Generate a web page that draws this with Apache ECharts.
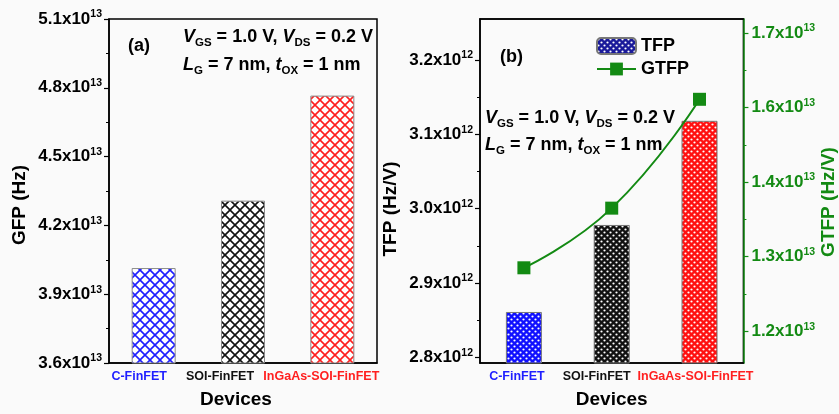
<!DOCTYPE html>
<html><head><meta charset="utf-8">
<script src="https://cdn.jsdelivr.net/npm/echarts@6/dist/echarts.min.js"></script>
<style>html,body{margin:0;padding:0;background:#fafafa}#c{width:839px;height:414px}</style>
</head><body><div id="c"></div>
<script>
// ---- data ----
const categories = ['C-FinFET', 'SOI-FinFET', 'InGaAs-SOI-FinFET'];
const gfp = [4.014, 4.308, 4.766];      // GFP, x10^13 Hz
const tfp = [2.861, 2.978, 3.118];      // TFP, x10^12 Hz/V
const gtfp = [1.285, 1.365, 1.511];     // GTFP, x10^13 Hz/V
const gfpTicks = [3.6, 3.9, 4.2, 4.5, 4.8, 5.1];
const tfpTicks = [2.8, 2.9, 3.0, 3.1, 3.2];
const tfpMinorTicks = [2.85, 2.95, 3.05, 3.15];
const gtfpTicks = [1.2, 1.3, 1.4, 1.5, 1.6];
const gtfpTickLabels = ['1.2', '1.3', '1.4', '1.6', '1.7'];
const gtfpMinorTicks = [1.25, 1.35, 1.45, 1.55];

// ---- styling ----
const F = 'Liberation Sans';
const green = '#138a13';
const catColors = ['#1f1fff', '#111111', '#ff1f1f'];

function hatch(color) {
  const c = document.createElement('canvas'); c.width = c.height = 10;
  const g = c.getContext('2d');
  g.fillStyle = '#fff'; g.fillRect(0, 0, 10, 10);
  g.strokeStyle = color; g.lineWidth = 1.6;
  g.beginPath();
  g.moveTo(-1, -1); g.lineTo(11, 11);
  g.moveTo(11, -1); g.lineTo(-1, 11);
  g.stroke();
  return { image: c, repeat: 'repeat' };
}
function dots(color) {
  const c = document.createElement('canvas'); c.width = c.height = 6;
  const g = c.getContext('2d');
  g.fillStyle = color; g.fillRect(0, 0, 6, 6);
  g.fillStyle = '#fff';
  g.beginPath(); g.arc(1.5, 1.5, 1.1, 0, Math.PI * 2); g.fill();
  g.beginPath(); g.arc(4.5, 4.5, 1.1, 0, Math.PI * 2); g.fill();
  return { image: c, repeat: 'repeat' };
}

function supRich(color) {
  return {
    mant: { fontSize: 17, fontWeight: 'bold', fontFamily: F, lineHeight: 20, color: color },
    expo: { fontSize: 10.5, fontWeight: 'bold', fontFamily: F, lineHeight: 10, verticalAlign: 'top', color: color }
  };
}
function supLabel(txt, exp) { return '{mant|' + txt + 'x10}{expo|' + exp + '}'; }

function catRich(offsets) {
  const r = {};
  offsets.forEach((o, i) => {
    r['c' + i] = { color: catColors[i], fontSize: 12.5, fontWeight: 'bold', fontFamily: F, padding: [0, Math.max(0, -2 * o), 0, Math.max(0, 2 * o)] };
  });
  return r;
}
const catFmt = (v, i) => '{c' + i + '|' + v + '}';

const annoRich = {
  i: { fontSize: 18, fontWeight: 'bold', fontStyle: 'italic', fontFamily: F, lineHeight: 24, fill: '#000' },
  n: { fontSize: 18, fontWeight: 'bold', fontFamily: F, lineHeight: 24, fill: '#000' },
  sub: { fontSize: 11.5, fontWeight: 'bold', fontFamily: F, lineHeight: 10, verticalAlign: 'bottom', fill: '#000' }
};
const line1 = '{i|V}{sub|GS}{n| = 1.0 V, }{i|V}{sub|DS}{n| = 0.2 V}';
const line2 = '{i|L}{sub|G}{n| = 7 nm, }{i|t}{sub|OX}{n| = 1 nm}';
function anno(text, left, top) {
  return { type: 'text', left: left, top: top, z: 10, style: { text: text, rich: annoRich, fill: '#000' } };
}
function plain(text, left, top) {
  return { type: 'text', left: left, top: top, z: 10, style: { text: text, fill: '#000', fontSize: 18, fontWeight: 'bold', fontFamily: F } };
}

const axisLineBlack = { show: true, lineStyle: { color: '#000', width: 1.5 } };
const nameStyle = { fontSize: 19, fontWeight: 'bold', fontFamily: F, color: '#000' };
const catLabelBase = { margin: 7, interval: 0, hideOverlap: false, fontSize: 12.5, fontWeight: 'bold', fontFamily: F, formatter: catFmt };
const valLabelBase = { fontSize: 17, fontWeight: 'bold', fontFamily: F, hideOverlap: false };

const option = {
  backgroundColor: '#fafafa',
  animation: false,
  grid: [
    { left: 109, right: 462, top: 19, bottom: 48, show: true, borderColor: '#000', borderWidth: 1.5, backgroundColor: 'transparent' },
    { left: 480, right: 90, top: 19, bottom: 49, show: true, borderColor: '#000', borderWidth: 1.5, backgroundColor: 'transparent' }
  ],
  legend: {
    orient: 'vertical', left: 596, top: 37, padding: 0, itemWidth: 39, itemHeight: 16, itemGap: 5,
    textStyle: { fontSize: 18, fontWeight: 'bold', fontFamily: F, color: '#000' },
    data: ['TFP', 'GTFP']
  },
  xAxis: [
    { type: 'category', gridIndex: 0, data: categories, position: 'bottom',
      axisLine: axisLineBlack, axisTick: { alignWithLabel: true, length: 4, lineStyle: { color: '#000', width: 1.2 } },
      axisLabel: Object.assign({ rich: catRich([-14.5, -23, -11]) }, catLabelBase),
      name: 'Devices', nameLocation: 'middle', nameGap: 27, nameTextStyle: Object.assign({ padding: [0, 14, 0, 0] }, nameStyle) },
    { type: 'category', gridIndex: 1, data: categories, position: 'bottom',
      axisLine: axisLineBlack, axisTick: { alignWithLabel: true, length: 4, lineStyle: { color: '#000', width: 1.2 } },
      axisLabel: Object.assign({ rich: catRich([-7, -15, -4]) }, catLabelBase),
      name: 'Devices', nameLocation: 'middle', nameGap: 27, nameTextStyle: nameStyle },
    { type: 'category', gridIndex: 1, data: categories, position: 'top',
      axisLine: axisLineBlack, axisTick: { alignWithLabel: true, inside: true, length: 5, lineStyle: { color: '#000', width: 1.2 } },
      axisLabel: { show: false } }
  ],
  yAxis: [
    { type: 'value', gridIndex: 0, min: 3.6, max: 5.1, interval: 0.3, position: 'left',
      axisLine: axisLineBlack, splitLine: { show: false },
      axisTick: { show: true, length: 5, lineStyle: { color: '#000', width: 1.2 } },
      minorTick: { show: true, splitNumber: 2, length: 3, lineStyle: { color: '#000', width: 1 } },
      axisLabel: Object.assign({ margin: 7, color: '#000', formatter: v => supLabel(v.toFixed(1), 13), rich: supRich('#000') }, valLabelBase),
      name: 'GFP (Hz)', nameLocation: 'middle', nameRotate: 90, nameGap: 80,
      nameTextStyle: Object.assign({ padding: [0, 28, 0, 0] }, nameStyle) },
    { type: 'value', gridIndex: 1, min: 2.7924, max: 3.2549, position: 'left',
      axisLine: axisLineBlack, splitLine: { show: false },
      axisTick: { show: true, length: 5, customValues: tfpTicks, lineStyle: { color: '#000', width: 1.2 } },
      axisLabel: Object.assign({ margin: 7, color: '#000', customValues: tfpTicks, formatter: v => supLabel(v.toFixed(1), 12), rich: supRich('#000') }, valLabelBase),
      name: 'TFP (Hz/V)', nameLocation: 'middle', nameRotate: 90, nameGap: 80,
      nameTextStyle: Object.assign({ padding: [0, 36, 0, 0] }, nameStyle) },
    { type: 'value', gridIndex: 1, min: 2.7924, max: 3.2549, position: 'left',
      axisLine: { show: false }, splitLine: { show: false },
      axisTick: { show: true, length: 3, customValues: tfpMinorTicks, lineStyle: { color: '#000', width: 1 } },
      axisLabel: { show: false } },
    { type: 'value', gridIndex: 1, min: 1.1573, max: 1.6187, position: 'right',
      axisLine: { show: true, lineStyle: { color: green, width: 1.5 } }, splitLine: { show: false },
      axisTick: { show: true, length: 5, customValues: gtfpTicks, lineStyle: { color: green, width: 1.2 } },
      axisLabel: Object.assign({ margin: 8, color: green, customValues: gtfpTicks,
        formatter: v => { const i = gtfpTicks.findIndex(t => Math.abs(t - v) < 1e-6); return supLabel(i >= 0 ? gtfpTickLabels[i] : v.toFixed(1), 13); },
        rich: supRich(green) }, valLabelBase),
      name: 'GTFP (Hz/V)', nameLocation: 'middle', nameRotate: 90, nameGap: 74,
      nameTextStyle: Object.assign({}, nameStyle, { color: green, padding: [0, 22, 0, 0] }) },
    { type: 'value', gridIndex: 1, min: 1.1573, max: 1.6187, position: 'right',
      axisLine: { show: false }, splitLine: { show: false },
      axisTick: { show: true, length: 3, customValues: gtfpMinorTicks, lineStyle: { color: green, width: 1 } },
      axisLabel: { show: false } }
  ],
  series: [
    { type: 'bar', name: 'GFP', xAxisIndex: 0, yAxisIndex: 0, barWidth: 44,
      data: gfp.map((v, i) => ({ value: v, itemStyle: { color: hatch(catColors[i]), borderColor: '#8a8a8a', borderWidth: 1 } })) },
    { type: 'bar', name: 'TFP', xAxisIndex: 1, yAxisIndex: 1, barWidth: 36,
      itemStyle: { color: dots('#1a1a9a'), borderColor: '#777', borderWidth: 1 },
      data: tfp.map((v, i) => ({ value: v, itemStyle: { color: dots(['#1010ff', '#111111', '#ff1010'][i]), borderColor: '#777', borderWidth: 1 } })) },
    { type: 'line', name: 'GTFP', xAxisIndex: 1, yAxisIndex: 3, smooth: true,
      symbol: 'rect', symbolSize: 13, z: 5,
      lineStyle: { color: green, width: 2 }, itemStyle: { color: green },
      data: gtfp }
  ],
  graphic: [
    plain('(a)', 128, 37),
    anno(line1, 183, 28),
    anno(line2, 183, 56),
    plain('(b)', 500, 48),
    anno(line1, 485, 109),
    anno(line2, 485, 136)
  ]
};
const chart = echarts.init(document.getElementById('c'), null, { renderer: 'canvas' });
chart.setOption(option);
</script>
</body></html>
